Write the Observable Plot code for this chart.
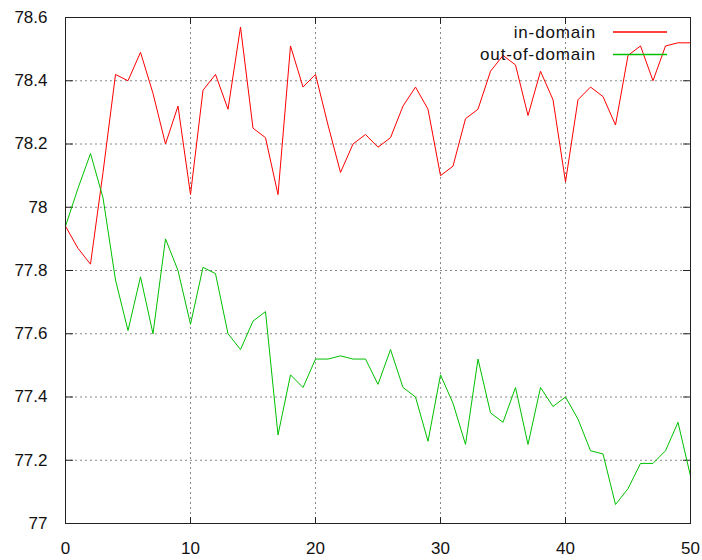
<!DOCTYPE html>
<html>
<head>
<meta charset="utf-8">
<script src="https://cdn.jsdelivr.net/npm/d3@7"></script>
<script src="https://cdn.jsdelivr.net/npm/@observablehq/plot@0.6"></script>
<style>
  html, body { margin: 0; padding: 0; background: #fff; }
  #chart { width: 702px; height: 560px; }
</style>
</head>
<body>
<div id="chart"></div>
<script>
const epochs = [0,1,2,3,4,5,6,7,8,9,10,11,12,13,14,15,16,17,18,19,20,21,22,23,24,25,26,27,28,29,30,31,32,33,34,35,36,37,38,39,40,41,42,43,44,45,46,47,48,49,50];
const inDomain = [77.94,77.87,77.82,78.11,78.42,78.40,78.49,78.36,78.20,78.32,78.04,78.37,78.42,78.31,78.57,78.25,78.22,78.04,78.51,78.38,78.42,78.26,78.11,78.20,78.23,78.19,78.22,78.32,78.38,78.31,78.10,78.13,78.28,78.31,78.43,78.48,78.45,78.29,78.43,78.34,78.08,78.34,78.38,78.35,78.26,78.48,78.51,78.40,78.51,78.52,78.52];
const outDomain = [77.94,78.06,78.17,78.03,77.77,77.61,77.78,77.60,77.90,77.80,77.63,77.81,77.79,77.60,77.55,77.64,77.67,77.28,77.47,77.43,77.52,77.52,77.53,77.52,77.52,77.44,77.55,77.43,77.40,77.26,77.47,77.38,77.25,77.52,77.35,77.32,77.43,77.25,77.43,77.37,77.40,77.33,77.23,77.22,77.06,77.11,77.19,77.19,77.23,77.32,77.15];
const seriesNames = ["in-domain", "out-of-domain"];
const seriesColors = ["#ff0000", "#00c000"];
const xTicks = [0,10,20,30,40,50];
const yTicks = [77,77.2,77.4,77.6,77.8,78,78.2,78.4,78.6];

const inData = epochs.map((e, i) => ({epoch: e, value: inDomain[i]}));
const outData = epochs.map((e, i) => ({epoch: e, value: outDomain[i]}));

const font = "'Liberation Sans', Arial, sans-serif";
const textStyle = {fontSize: 17, fill: "#111", letterSpacing: "0.8px"};

const chart = Plot.plot({
  width: 702,
  height: 560,
  marginLeft: 65,
  marginRight: 12,
  marginTop: 17,
  marginBottom: 37,
  style: {fontFamily: font, background: "#fff", overflow: "visible"},
  x: {domain: [0, 50]},
  y: {domain: [77, 78.6]},
  marks: [
    Plot.gridX(xTicks, {stroke: "#888", strokeOpacity: 1, strokeDasharray: "2,3"}),
    Plot.gridY(yTicks, {stroke: "#888", strokeOpacity: 1, strokeDasharray: "2,3"}),
    Plot.axisX(xTicks, {anchor: "bottom", tickSize: 0, tickPadding: 18, label: null, tickFormat: d => String(d), fontSize: 17, fill: "#111", letterSpacing: "0.8px"}),
    Plot.axisY(yTicks, {anchor: "left", tickSize: 0, tickPadding: 18, label: null, tickFormat: d => String(d), fontSize: 17, fill: "#111", letterSpacing: "0.8px"}),
    Plot.axisX(xTicks, {anchor: "top", frameAnchor: "bottom", tickSize: 7, tickFormat: () => "", label: null, stroke: "#222"}),
    Plot.axisX(xTicks, {anchor: "bottom", frameAnchor: "top", tickSize: 7, tickFormat: () => "", label: null, stroke: "#222"}),
    Plot.axisY(yTicks, {anchor: "right", frameAnchor: "left", tickSize: 7, tickFormat: () => "", label: null, stroke: "#222"}),
    Plot.axisY(yTicks, {anchor: "left", frameAnchor: "right", tickSize: 7, tickFormat: () => "", label: null, stroke: "#222"}),
    Plot.line(inData, {x: "epoch", y: "value", stroke: seriesColors[0], strokeWidth: 1}),
    Plot.line(outData, {x: "epoch", y: "value", stroke: seriesColors[1], strokeWidth: 1}),
    Plot.frame({stroke: "#222", strokeWidth: 1})
  ]
});

document.getElementById("chart").appendChild(chart);

// Legend (top-right, inside plot frame)
const svg = d3.select(chart);
const legend = svg.append("g").attr("class", "legend");
const legendRight = 596, lineX1 = 613, lineX2 = 667;
seriesNames.forEach((name, i) => {
  const cy = 32 + i * 22.5;
  legend.append("text")
    .attr("x", legendRight)
    .attr("y", cy)
    .attr("dy", "0.35em")
    .attr("text-anchor", "end")
    .attr("font-family", font)
    .attr("font-size", 17)
    .attr("letter-spacing", "0.85px")
    .attr("fill", "#111")
    .text(name);
  legend.append("line")
    .attr("x1", lineX1).attr("x2", lineX2)
    .attr("y1", cy).attr("y2", cy)
    .attr("stroke", seriesColors[i])
    .attr("stroke-width", 1.5);
});
</script>
</body>
</html>
